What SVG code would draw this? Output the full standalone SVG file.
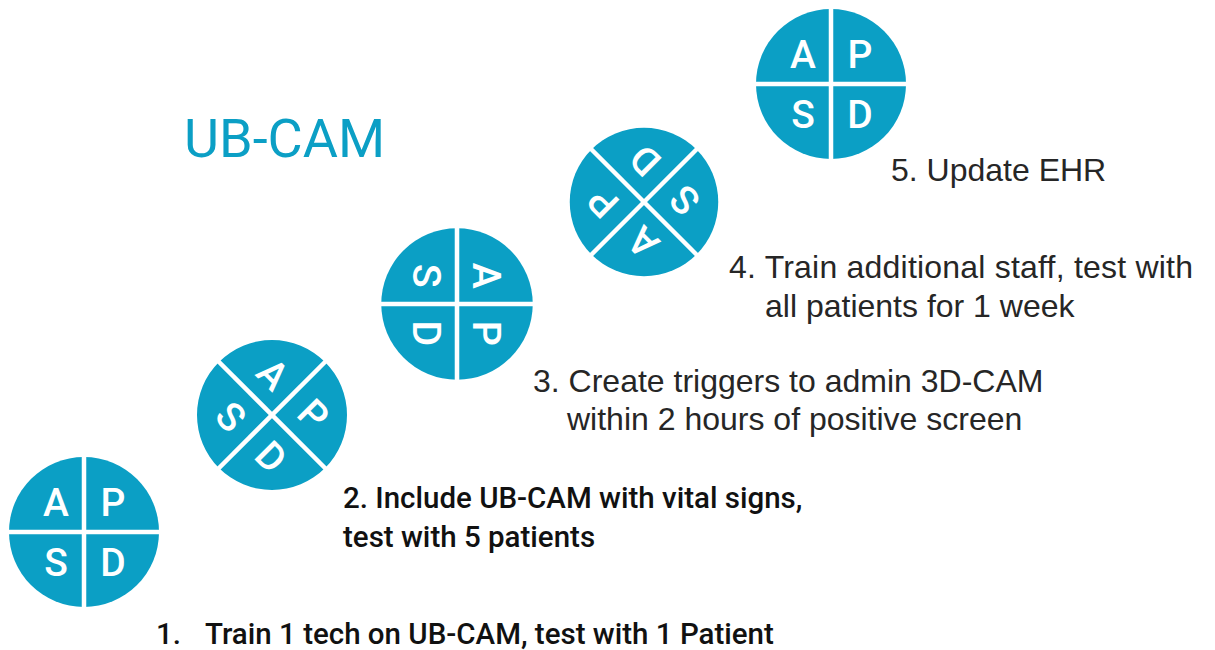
<svg xmlns="http://www.w3.org/2000/svg" xmlns:xlink="http://www.w3.org/1999/xlink" width="1215" height="650" viewBox="0 0 1215 650">
<style>
.disk{fill:#0b9fc5}
.div{stroke:#fff;stroke-width:4.5}
.ltr{font-family:Roboto,"Liberation Sans",sans-serif;font-weight:500;font-size:39px;fill:#fff;text-anchor:middle}
.title{font-family:Roboto,"Liberation Sans",sans-serif;font-size:54px;fill:#0b9fc5}
.lbl{font-family:"Liberation Sans",Arial,sans-serif;font-size:32px;fill:#262626}
.lblb{font-family:Roboto,"Liberation Sans",sans-serif;font-weight:500;font-size:29.5px;fill:#111}
</style>
<defs>
<g id="apsd">
<circle class="disk" r="75"/>
<line class="div" x1="0" y1="-76" x2="0" y2="76"/>
<line class="div" x1="-76" y1="0" x2="76" y2="0"/>
<text class="ltr" x="-28" y="-16">A</text>
<text class="ltr" x="29" y="-16">P</text>
<text class="ltr" x="-28" y="44">S</text>
<text class="ltr" x="29" y="44">D</text>
</g>
</defs>
<rect width="1215" height="650" fill="#fff"/>
<text class="title" x="184" y="157">UB-CAM</text>
<g id="connectors"/>
<g id="step1">
<use xlink:href="#apsd" transform="translate(84,532)"/>
<text class="lblb" x="156" y="644">1.</text>
<text class="lblb" x="205" y="644">Train 1 tech on UB-CAM, test with 1 Patient</text>
</g>
<g id="step2">
<use xlink:href="#apsd" transform="translate(272,415) rotate(45)"/>
<text class="lblb" x="343" y="508">2. Include UB-CAM with vital signs,</text>
<text class="lblb" x="343" y="547">test with 5 patients</text>
</g>
<g id="step3">
<use xlink:href="#apsd" transform="translate(457,304) rotate(90) scale(1.01)"/>
<text class="lbl" x="533" y="392">3. Create triggers to admin 3D-CAM</text>
<text class="lbl" x="567" y="430">within 2 hours of positive screen</text>
</g>
<g id="step4">
<use xlink:href="#apsd" transform="translate(644,202) rotate(225) scale(0.99)"/>
<text class="lbl" x="729" y="278" textLength="464">4. Train additional staff, test with</text>
<text class="lbl" x="765" y="317">all patients for 1 week</text>
</g>
<g id="step5">
<use xlink:href="#apsd" transform="translate(831,84)"/>
<text class="lbl" x="891" y="181">5. Update EHR</text>
</g>
</svg>
